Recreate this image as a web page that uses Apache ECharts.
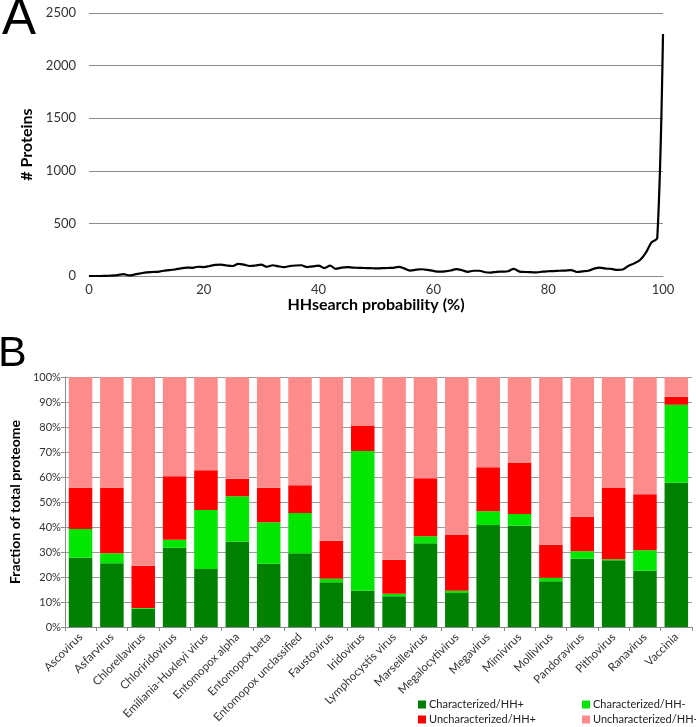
<!DOCTYPE html>
<html>
<head>
<meta charset="utf-8">
<script src="https://cdn.jsdelivr.net/npm/echarts@6/dist/echarts.min.js"></script>
<style>html,body{margin:0;padding:0;background:#fff}#c{width:696px;height:727px}</style>
</head>
<body>
<div id="c"></div>
<script>
// Panel A: HHsearch probability distribution
const probX = [0,1,2,3,4,5,6,7,8,9,10,11,12,13,14,15,16,17,18,19,20,21,22,23,24,25,26,27,28,29,30,31,32,33,34,35,36,37,38,39,40,41,42,43,44,45,46,47,48,49,50,51,52,53,54,55,56,57,58,59,60,61,62,63,64,65,66,67,68,69,70,71,72,73,74,75,76,77,78,79,80,81,82,83,84,85,86,87,88,89,90,91,92,93,94,95,96,97,98,99,100];
const proteinCounts = [0,0,0,2,3,8,18,5,15,25,35,38,40,50,55,62,72,80,78,88,85,95,105,108,100,95,115,108,95,100,108,88,102,92,85,95,100,102,85,92,98,75,98,68,80,85,80,78,76,75,72,74,76,78,86,70,52,60,64,58,48,42,44,52,66,55,40,50,50,36,32,40,42,45,68,42,38,36,34,42,45,47,50,52,55,38,44,50,70,80,70,68,58,62,98,120,152,220,320,360,2300];

// Panel B: fraction of total proteome
const viruses = ["Ascovirus","Asfarvirus","Chlorellavirus","Chloriridovirus","Emiliania-Huxleyi virus","Entomopox alpha","Entomopox beta","Entomopox unclassified","Faustovirus","Iridovirus","Lymphocystis virus","Marseillevirus","Megalocytivirus","Megavirus","Mimivirus","Mollivirus","Pandoravirus","Pithovirus","Ranavirus","Vaccinia"];
const charHHpos   = [27.7,25.5,7.3,31.7,23.2,34.1,25.3,29.5,17.9,14.5,12.3,33.5,13.6,40.8,40.5,18.3,27.3,26.7,22.5,57.7];
const charHHneg   = [11.5,4.0,0.3,3.2,23.6,18.2,16.6,16.1,1.4,55.9,1.0,2.8,0.9,5.5,4.7,1.4,3.0,0.4,8.2,31.2];
const uncharHHpos = [16.5,26.2,16.9,25.4,15.9,7.0,13.8,11.1,15.2,10.0,13.6,23.2,22.3,17.6,20.4,13.2,13.8,28.5,22.4,3.2];
const uncharHHneg = [44.3,44.3,75.5,39.7,37.3,40.7,44.3,43.3,65.5,19.6,73.1,40.5,63.2,36.1,34.4,67.1,55.9,44.4,46.9,7.9];
const seriesNames = ["Characterized/HH+","Characterized/HH-","Uncharacterized/HH+","Uncharacterized/HH-"];
const seriesColors = ["#008000","#00e600","#ff0000","#ff8b8b"];

const FONT = "Lato, 'Open Sans', sans-serif";
const chart = echarts.init(document.getElementById('c'));
const barData = [charHHpos, charHHneg, uncharHHpos, uncharHHneg];

const legendPos = [[418,699],[582,699],[418,714],[582,714]];

chart.setOption({
  animation: false,
  textStyle: {fontFamily: FONT},
  graphic: [
    {type:'text', left: 2, top: -6, style:{text:'A', font:'51px "Liberation Sans", Arial, sans-serif', fill:'#000'}},
    {type:'text', left: -2, top: 333, style:{text:'B', font:'43px "Liberation Sans", Arial, sans-serif', fill:'#000'}}
  ],
  grid: [
    {left: 89, right: 33, top: 13, height: 263},
    {left: 48, right: 4, top: 377, height: 250}
  ],
  xAxis: [
    {
      gridIndex: 0, type: 'value', min: 0, max: 100, interval: 20,
      axisLine: {show: true, lineStyle: {color: '#8a8a8a', width: 1}},
      axisTick: {show: false},
      splitLine: {show: false},
      axisLabel: {fontSize: 13, color: '#333', margin: 7, fontFamily: FONT},
      name: 'HHsearch probability (%)', nameLocation: 'middle', nameGap: 12,
      nameTextStyle: {fontSize: 16, fontWeight: 'bold', color: '#000', fontFamily: FONT}
    },
    {
      gridIndex: 1, type: 'category', data: viruses,
      axisLine: {show: true, lineStyle: {color: '#8a8a8a'}},
      axisTick: {show: true, length: 4, lineStyle: {color: '#8a8a8a'}},
      axisLabel: {rotate: 45, interval: 0, fontSize: 11.5, color: '#333', margin: 8, fontFamily: FONT}
    }
  ],
  yAxis: [
    {
      gridIndex: 0, type: 'value', min: 0, max: 2500, interval: 500,
      axisLine: {show: false}, axisTick: {show: false},
      splitLine: {show: true, lineStyle: {color: '#8c8c8c', width: 1}},
      axisLabel: {fontSize: 13, color: '#333', margin: 13, fontFamily: FONT, formatter: v => String(v)},
      name: '# Proteins', nameLocation: 'middle', nameGap: 33,
      nameTextStyle: {fontSize: 16, fontWeight: 'bold', color: '#000', fontFamily: FONT}
    },
    {
      gridIndex: 1, type: 'value', min: 0, max: 100, interval: 10,
      axisLine: {show: true, lineStyle: {color: '#8a8a8a'}},
      axisTick: {show: true, length: 4, lineStyle: {color: '#8a8a8a'}},
      splitLine: {show: true, lineStyle: {color: '#9a9a9a', width: 1}},
      axisLabel: {fontSize: 11, color: '#333', margin: 4, formatter: '{value}%', fontFamily: FONT},
      name: 'Fraction of total proteome', nameLocation: 'middle', nameGap: 39,
      nameTextStyle: {fontSize: 14, fontWeight: 'bold', color: '#000', fontFamily: FONT}
    }
  ],
  legend: seriesNames.map((n, i) => ({
    data: [n], left: legendPos[i][0], top: legendPos[i][1],
    itemWidth: 8, itemHeight: 8, itemGap: 4, icon: 'rect', padding: 0,
    textStyle: {fontSize: 11, color: '#222', fontFamily: FONT, padding: [0,0,0,-2]}
  })),
  series: [
    {
      type: 'line', xAxisIndex: 0, yAxisIndex: 0,
      data: probX.map((x, i) => [x, proteinCounts[i]]),
      showSymbol: false, smooth: 0.3,
      lineStyle: {color: '#000', width: 2.2}, itemStyle: {color: '#000'}
    }
  ].concat(seriesNames.map((n, i) => ({
    name: n, type: 'bar', stack: 'total', xAxisIndex: 1, yAxisIndex: 1,
    data: barData[i], barWidth: '75%',
    itemStyle: {color: seriesColors[i]}
  })))
});
</script>
</body>
</html>
